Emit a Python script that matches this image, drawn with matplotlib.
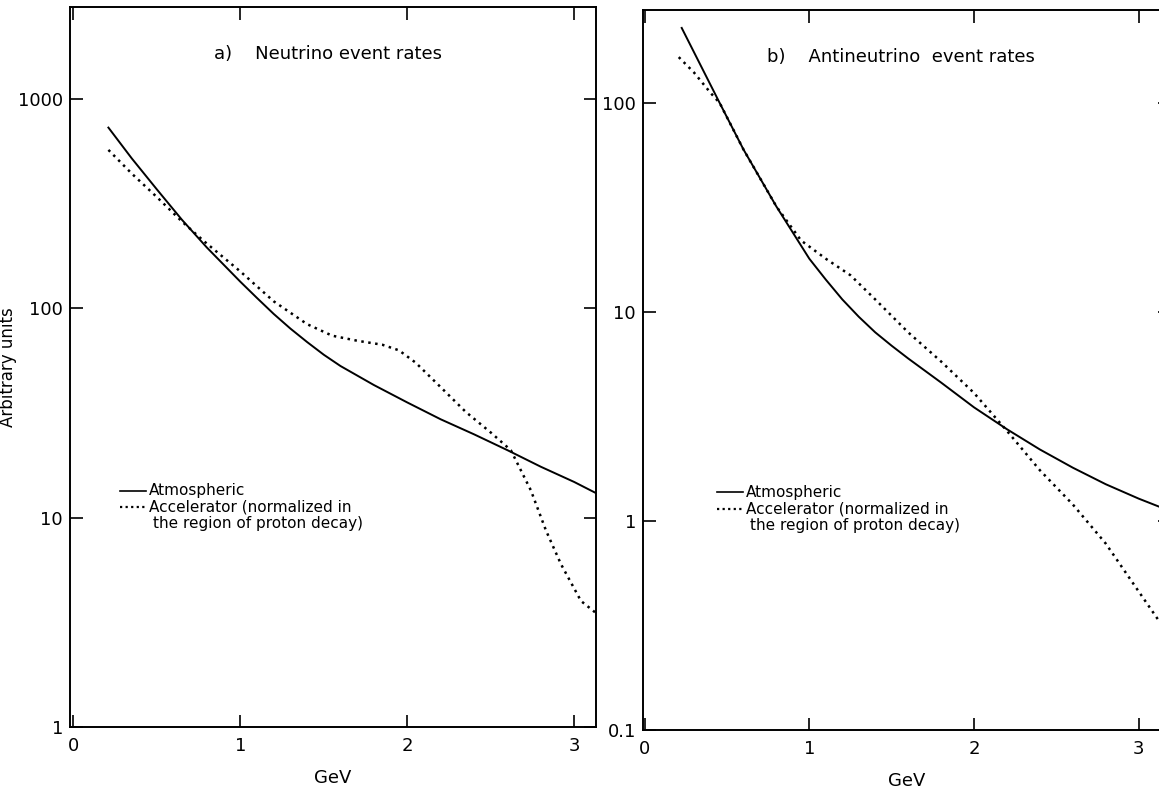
import matplotlib
matplotlib.use("Agg")
import matplotlib.pyplot as plt
from matplotlib.ticker import FixedLocator, FixedFormatter

plt.rcParams['font.family'] = ['DejaVu Sans']

# ---- data: panel a (neutrino) ----
a_atm_x = [0.21, 0.35, 0.50, 0.65, 0.80, 1.00, 1.10, 1.20, 1.30, 1.40, 1.50, 1.60, 1.80, 2.00, 2.20, 2.40, 2.60, 2.80, 3.00, 3.13]
a_atm_y = [730, 520, 370, 265, 195, 134, 112, 94, 80, 69, 60, 53, 43, 35.5, 29.5, 25, 21, 17.5, 14.8, 13.1]
a_acc_x = [0.21, 0.35, 0.50, 0.65, 0.78, 1.00, 1.20, 1.40, 1.55, 1.70, 1.85, 1.95, 2.05, 2.20, 2.35, 2.50, 2.62, 2.74, 2.83, 2.92, 3.04, 3.15]
a_acc_y = [571, 440, 340, 260, 210, 150, 108, 84, 74, 70, 67, 63, 55, 42, 32, 25.5, 21, 13.5, 8.7, 6.0, 4.0, 3.4]

# ---- data: panel b (antineutrino) ----
b_atm_x = [0.225, 0.30, 0.456, 0.60, 0.80, 1.00, 1.10, 1.20, 1.30, 1.40, 1.50, 1.60, 1.80, 2.00, 2.20, 2.40, 2.60, 2.80, 3.00, 3.15]
b_atm_y = [229, 175, 100, 60, 32, 18, 14.3, 11.5, 9.5, 8.0, 6.9, 6.0, 4.6, 3.5, 2.75, 2.2, 1.8, 1.5, 1.28, 1.15]
b_acc_x = [0.207, 0.30, 0.40, 0.456, 0.60, 0.80, 0.95, 1.10, 1.25, 1.40, 1.60, 1.80, 2.00, 2.20, 2.40, 2.60, 2.80, 3.00, 3.15]
b_acc_y = [166, 140, 112, 100, 60, 32, 22, 18, 15, 11.5, 8, 5.8, 4.1, 2.7, 1.75, 1.2, 0.78, 0.46, 0.31]

x_ticks = [0, 1, 2, 3]
x_ticklabels = ["0", "1", "2", "3"]
a_yticks = [1, 10, 100, 1000]
a_yticklabels = ["1", "10", "100", "1000"]
b_yticks = [0.1, 1, 10, 100]
b_yticklabels = ["0.1", "1", "10", "100"]

titles = ["a)    Neutrino event rates", "b)    Antineutrino  event rates"]
legend_labels = ["Atmospheric", "Accelerator (normalized in", "the region of proton decay)"]

W, H = 1159, 791
fig = plt.figure(figsize=(W / 100, H / 100), dpi=100)

def px_axes(l, t, r, b):
    return fig.add_axes([l / W, 1 - b / H, (r - l) / W, (b - t) / H])

axA = px_axes(70, 7, 596, 727)
axB = px_axes(643, 10, 1170, 730)

dot = (0, (1, 1.8))
FS = 13

def style(ax, yticks, ylabels, ylim, xlim):
    ax.set_yscale('log')
    ax.set_xlim(*xlim)
    ax.set_ylim(*ylim)
    ax.xaxis.set_major_locator(FixedLocator(x_ticks))
    ax.xaxis.set_major_formatter(FixedFormatter(x_ticklabels))
    ax.yaxis.set_major_locator(FixedLocator(yticks))
    ax.yaxis.set_major_formatter(FixedFormatter(ylabels))
    ax.yaxis.set_minor_locator(FixedLocator([]))
    ax.tick_params(which='major', direction='in', length=9, width=1.2,
                   top=True, right=True, labelsize=FS)
    ax.tick_params(axis='y', pad=5)
    ax.tick_params(axis='x', pad=7)
    for s in ax.spines.values():
        s.set_linewidth(1.4)
    ax.set_xlabel("GeV", fontsize=FS, labelpad=10)

style(axA, a_yticks, a_yticklabels, (1, 2750), (-0.02, 3.13))
style(axB, b_yticks, b_yticklabels, (0.1, 279), (-0.01, 3.19))

axA.plot(a_atm_x, a_atm_y, color='black', lw=1.4)
axA.plot(a_acc_x, a_acc_y, color='black', lw=1.8, linestyle=dot)
axB.plot(b_atm_x, b_atm_y, color='black', lw=1.4)
axB.plot(b_acc_x, b_acc_y, color='black', lw=1.8, linestyle=dot)

axA.set_ylabel("Arbitrary units", fontsize=12)
axA.yaxis.set_label_coords(-0.1, 0.5)

axA.text(0.49, 0.935, titles[0], transform=axA.transAxes, fontsize=FS, ha='center', va='center')
axB.text(0.49, 0.935, titles[1], transform=axB.transAxes, fontsize=FS, ha='center', va='center')

def legend(ax, x0, y0, dy):
    ax.plot([x0, x0 + 0.05], [y0, y0], transform=ax.transAxes, color='black', lw=1.2)
    ax.plot([x0, x0 + 0.05], [y0 - dy, y0 - dy], transform=ax.transAxes, color='black',
            lw=1.6, linestyle=(0, (1, 1.5)))
    ax.text(x0 + 0.055, y0, legend_labels[0], transform=ax.transAxes, fontsize=11, va='center')
    ax.text(x0 + 0.055, y0 - dy, legend_labels[1], transform=ax.transAxes, fontsize=11, va='center')
    ax.text(x0 + 0.063, y0 - 2 * dy, legend_labels[2], transform=ax.transAxes, fontsize=11, va='center')

legend(axA, 0.095, 0.328, 0.023)
legend(axB, 0.14, 0.33, 0.023)

fig.savefig("out.png", dpi=100)
